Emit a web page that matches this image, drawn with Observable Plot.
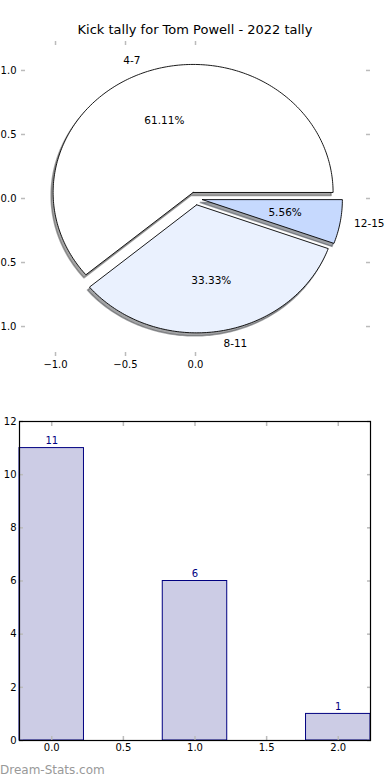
<!DOCTYPE html>
<html><head><meta charset="utf-8">
<script src="https://cdn.jsdelivr.net/npm/d3@7"></script>
<script src="https://cdn.jsdelivr.net/npm/@observablehq/plot@0.6"></script>
<style>
body{margin:0;background:#fff;font-family:"DejaVu Sans",sans-serif;}
#wrap{position:relative;width:390px;height:780px;overflow:hidden;background:#fff;}
#title{position:absolute;top:22px;left:0;width:390px;text-align:center;font-size:13px;line-height:16px;color:#000;}
#pie{position:absolute;top:0;left:0;}
#bar{position:absolute;top:390px;left:0;}
#wm{position:absolute;left:0;top:762px;font-size:12px;line-height:16px;color:#999;}
</style></head><body>
<div id="wrap"><div id="pie"></div><div id="bar"></div><div id="title">Kick tally for Tom Powell - 2022 tally</div><div id="wm">Dream-Stats.com</div></div>
<script>
const categories = ["4-7", "8-11", "12-15"];
const counts = [11, 6, 1];
const sliceColors = ["#ffffff", "#eaf1fe", "#c6d9fe"];
const pieXTicks = [-1, -0.5, 0];
const pieYTicks = [-1, -0.5, 0, 0.5, 1];
const barXTicks = [0, 0.5, 1, 1.5, 2];
const barYTicks = [0, 2, 4, 6, 8, 10, 12];
const explode = 0.05;
const barWidth = 0.45;

const fmt = d3.format(".1f");
const total = d3.sum(counts);
let acc = 0;
const slices = counts.map((v, i) => {
  const t1 = acc / total * 2 * Math.PI;
  acc += v;
  const t2 = acc / total * 2 * Math.PI;
  const mid = (t1 + t2) / 2;
  const cx = explode * Math.cos(mid), cy = explode * Math.sin(mid);
  const n = Math.max(2, Math.ceil((t2 - t1) / (Math.PI / 180)));
  const pts = [{x: cx, y: cy}];
  for (let k = 0; k <= n; k++) {
    const a = t1 + (t2 - t1) * k / n;
    pts.push({x: cx + Math.cos(a), y: cy + Math.sin(a)});
  }
  pts.push({x: cx, y: cy});
  const c = d3.rgb(sliceColors[i]);
  const shadow = d3.rgb(c.r * 0.3, c.g * 0.3, c.b * 0.3).formatHex();
  return {
    cat: categories[i], pct: (v / total * 100).toFixed(2) + "%",
    color: sliceColors[i], shadow, pts,
    lx: cx + 1.1 * Math.cos(mid), ly: cy + 1.1 * Math.sin(mid),
    px: cx + 0.6 * Math.cos(mid), py: cy + 0.6 * Math.sin(mid)
  };
});

const font = {fontFamily: "DejaVu Sans", fontSize: "10px", background: "transparent", color: "#000"};

const pie = Plot.plot({
  width: 390, height: 390,
  marginLeft: 21, marginRight: 21, marginTop: 40, marginBottom: 34,
  style: font,
  x: {domain: [-1.243, 1.243]},
  y: {domain: [-1.234, 1.234]},
  marks: [
    ...slices.map(s => Plot.line(s.pts, {x: "x", y: "y", fill: s.shadow, fillOpacity: 0.5, stroke: s.shadow, strokeOpacity: 0.5, dx: -2, dy: 3})),
    ...slices.map(s => Plot.line(s.pts, {x: "x", y: "y", fill: s.color, stroke: "#000", strokeWidth: 0.9, strokeLinejoin: "miter"})),
    Plot.text(slices.filter(s => s.lx < 0), {x: "lx", y: "ly", text: "cat", textAnchor: "end", fontSize: 10.5}),
    Plot.text(slices.filter(s => s.lx >= 0), {x: "lx", y: "ly", text: "cat", textAnchor: "start", fontSize: 10.5}),
    Plot.text(slices, {x: "px", y: "py", text: "pct", textAnchor: "middle", fontSize: 10.5}),
    Plot.axisX(pieXTicks, {anchor: "bottom", tickSize: -4, stroke: "#bbb", strokeWidth: 1.5, tickFormat: () => "", label: null}),
    Plot.axisX(pieXTicks, {anchor: "top", tickSize: -4, stroke: "#bbb", strokeWidth: 1.5, tickFormat: () => "", label: null}),
    Plot.axisX(pieXTicks, {anchor: "bottom", tickSize: 0, tickPadding: 4, tickFormat: fmt, label: null}),
    Plot.axisY(pieYTicks, {anchor: "left", tickSize: -4, stroke: "#bbb", strokeWidth: 1.5, tickFormat: () => "", label: null}),
    Plot.axisY(pieYTicks, {anchor: "right", tickSize: -4, stroke: "#bbb", strokeWidth: 1.5, tickFormat: () => "", label: null}),
    Plot.axisY(pieYTicks, {anchor: "left", tickSize: 0, tickPadding: 5, tickFormat: fmt, label: null})
  ]
});
document.getElementById("pie").append(pie);

const barData = counts.map((v, i) => ({i, v}));
const bar = Plot.plot({
  width: 390, height: 390,
  marginLeft: 19, marginRight: 20, marginTop: 31, marginBottom: 40,
  style: font,
  x: {domain: [-barWidth / 2, counts.length - 1 + barWidth / 2]},
  y: {domain: [0, 12]},
  marks: [
    Plot.rect(barData, {x1: d => d.i - barWidth / 2, x2: d => d.i + barWidth / 2, y1: 0, y2: "v", fill: "#ccccE5", stroke: "#000080", strokeWidth: 1}),
    Plot.text(barData, {x: "i", y: "v", text: d => String(d.v), dy: -4, lineAnchor: "bottom", fill: "#000080"}),
    Plot.axisX(barXTicks, {anchor: "bottom", tickSize: -4, stroke: "#bbb", strokeWidth: 1.5, tickFormat: () => "", label: null}),
    Plot.axisX(barXTicks, {anchor: "top", tickSize: -4, stroke: "#bbb", strokeWidth: 1.5, tickFormat: () => "", label: null}),
    Plot.axisX(barXTicks, {anchor: "bottom", tickSize: 0, tickPadding: 3, tickFormat: fmt, label: null}),
    Plot.axisY(barYTicks, {anchor: "left", tickSize: -4, stroke: "#bbb", strokeWidth: 1.5, tickFormat: () => "", label: null}),
    Plot.axisY(barYTicks, {anchor: "right", tickSize: -4, stroke: "#bbb", strokeWidth: 1.5, tickFormat: () => "", label: null}),
    Plot.axisY(barYTicks, {anchor: "left", tickSize: 0, tickPadding: 3, tickFormat: d => String(d), label: null}),
    Plot.frame({stroke: "#000", strokeWidth: 1.2})
  ]
});
document.getElementById("bar").append(bar);
</script>
</body></html>
